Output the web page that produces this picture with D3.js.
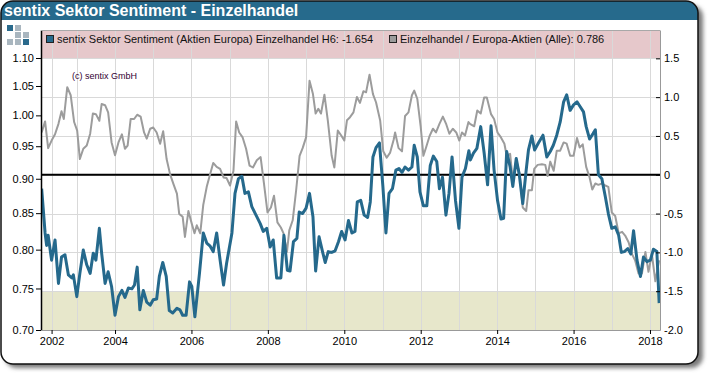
<!DOCTYPE html>
<meta charset="utf-8">
<style>
  body { margin: 0; background: #fff; }
  svg { display: block; font-family: Arial, "Liberation Sans", sans-serif; }
  .axis text { font-size: 11px; fill: #000; font-family: Arial, "Liberation Sans", sans-serif; }
  .legend text { font-size: 11px; fill: #111; }
</style>
<svg width="710" height="376"></svg>
<script src="https://d3js.org/d3.v7.min.js"></script>
<script>

// sentix sector sentiment, Einzelhandel H6 (right axis), [year, value]
var sentimentH6 = [
  [2002.08,-0.18],[2002.17,-0.75],[2002.21,-0.91],[2002.25,-0.78],[2002.34,-1.10],[2002.43,-0.84],
  [2002.52,-1.40],[2002.60,-1.06],[2002.69,-1.03],[2002.78,-1.29],[2002.87,-1.33],[2002.91,-1.29],
  [2003.00,-1.57],[2003.08,-1.27],[2003.17,-0.97],[2003.26,-1.16],[2003.35,-1.27],[2003.43,-1.01],
  [2003.50,-1.10],[2003.59,-0.69],[2003.65,-1.01],[2003.74,-1.40],[2003.82,-1.25],[2003.91,-1.44],
  [2004.00,-1.81],[2004.09,-1.57],[2004.18,-1.49],[2004.26,-1.58],[2004.35,-1.46],[2004.44,-1.47],
  [2004.51,-1.42],[2004.58,-1.19],[2004.65,-1.74],[2004.74,-1.49],[2004.83,-1.64],[2004.92,-1.68],
  [2005.00,-1.61],[2005.09,-1.60],[2005.16,-1.31],[2005.25,-1.13],[2005.34,-1.31],[2005.42,-1.75],
  [2005.51,-1.78],[2005.62,-1.72],[2005.70,-1.74],[2005.77,-1.81],[2005.86,-1.81],[2005.95,-1.38],
  [2006.01,-1.44],[2006.09,-1.83],[2006.21,-1.27],[2006.31,-0.75],[2006.40,-0.88],[2006.49,-0.92],
  [2006.57,-0.99],[2006.66,-0.75],[2006.75,-1.10],[2006.84,-1.42],[2006.92,-1.14],[2007.06,-0.75],
  [2007.14,-0.24],[2007.23,-0.05],[2007.32,-0.02],[2007.40,-0.24],[2007.49,-0.22],[2007.58,-0.41],
  [2007.67,-0.50],[2007.71,-0.54],[2007.80,-0.63],[2007.88,-0.73],[2007.97,-0.69],[2008.06,-0.93],
  [2008.14,-0.84],[2008.23,-1.33],[2008.34,-1.33],[2008.42,-0.78],[2008.51,-1.23],[2008.58,-1.24],
  [2008.67,-0.86],[2008.76,-0.82],[2008.82,-0.48],[2008.91,-0.50],[2009.00,-0.43],[2009.09,-0.24],
  [2009.18,-0.54],[2009.25,-1.24],[2009.34,-0.80],[2009.43,-0.99],[2009.50,-1.13],[2009.58,-0.99],
  [2009.67,-1.00],[2009.76,-0.98],[2009.85,-0.86],[2009.93,-0.73],[2010.02,-0.84],[2010.11,-0.59],
  [2010.20,-0.75],[2010.28,-0.73],[2010.34,-0.35],[2010.43,-0.33],[2010.52,-0.52],[2010.61,-0.55],
  [2010.68,-0.35],[2010.75,0.23],[2010.83,0.35],[2010.92,0.41],[2011.01,-0.15],[2011.09,-0.75],
  [2011.17,-0.24],[2011.26,-0.18],[2011.35,0.06],[2011.43,0.08],[2011.51,0.03],[2011.59,0.10],
  [2011.68,0.06],[2011.77,0.10],[2011.83,0.38],[2011.91,0.23],[2011.98,-0.22],[2012.07,-0.40],
  [2012.16,-0.40],[2012.25,0.12],[2012.33,0.24],[2012.42,0.17],[2012.49,-0.18],[2012.57,-0.03],
  [2012.66,-0.52],[2012.74,-0.24],[2012.82,0.23],[2012.91,-0.33],[2013.00,-0.69],[2013.08,-0.03],
  [2013.17,0.08],[2013.26,0.31],[2013.30,0.19],[2013.38,0.28],[2013.47,0.34],[2013.57,0.62],
  [2013.66,0.28],[2013.75,-0.13],[2013.84,0.63],[2013.92,0.06],[2014.01,-0.33],[2014.10,-0.57],
  [2014.17,-0.56],[2014.25,0.30],[2014.34,0.10],[2014.41,-0.15],[2014.50,0.21],[2014.58,0.00],
  [2014.67,-0.37],[2014.76,0.06],[2014.82,0.32],[2014.91,0.50],[2014.98,0.32],[2015.08,0.41],
  [2015.20,0.51],[2015.30,0.23],[2015.39,0.30],[2015.47,0.38],[2015.56,0.51],[2015.65,0.68],
  [2015.74,0.94],[2015.82,1.03],[2015.91,0.83],[2016.00,0.90],[2016.09,0.94],[2016.17,0.88],
  [2016.26,0.81],[2016.33,0.62],[2016.42,0.46],[2016.51,0.53],[2016.57,0.58],[2016.65,0.00],
  [2016.74,-0.05],[2016.83,-0.28],[2016.91,-0.50],[2017.00,-0.69],[2017.09,-0.67],[2017.18,-0.78],
  [2017.25,-1.00],[2017.33,-0.99],[2017.42,-0.95],[2017.50,-1.02],[2017.57,-0.72],[2017.66,-1.10],
  [2017.75,-1.31],[2017.83,-1.06],[2017.92,-1.12],[2018.01,-1.10],[2018.09,-0.96],[2018.18,-0.99],
  [2018.24,-1.654]
];

// Einzelhandel / Europa-Aktien (Alle), relative performance (left log axis), [year, value]
var relativeAll = [
  [2002.08,0.972],[2002.17,0.990],[2002.25,0.947],[2002.34,0.959],[2002.43,0.969],[2002.52,0.986],
  [2002.60,1.007],[2002.66,0.994],[2002.75,1.048],[2002.84,1.034],[2002.93,0.989],[2003.01,0.975],
  [2003.08,0.930],[2003.17,0.946],[2003.26,0.951],[2003.35,0.970],[2003.42,1.003],[2003.50,1.002],
  [2003.59,0.991],[2003.65,1.019],[2003.74,1.017],[2003.82,1.005],[2003.91,0.956],[2004.00,0.936],
  [2004.09,0.956],[2004.18,0.969],[2004.26,0.946],[2004.33,0.951],[2004.41,0.994],[2004.50,0.994],
  [2004.58,1.001],[2004.67,0.998],[2004.76,0.972],[2004.83,0.962],[2004.92,0.978],[2005.00,0.980],
  [2005.09,0.972],[2005.18,0.954],[2005.26,0.974],[2005.35,0.930],[2005.44,0.907],[2005.53,0.892],
  [2005.62,0.878],[2005.68,0.849],[2005.77,0.845],[2005.83,0.817],[2005.92,0.853],[2006.01,0.835],
  [2006.08,0.822],[2006.14,0.833],[2006.23,0.822],[2006.31,0.862],[2006.40,0.888],[2006.49,0.907],
  [2006.57,0.924],[2006.66,0.918],[2006.75,0.915],[2006.84,0.902],[2006.92,0.901],[2007.01,0.890],
  [2007.10,0.912],[2007.17,0.990],[2007.25,0.972],[2007.34,0.964],[2007.43,0.946],[2007.52,0.920],
  [2007.61,0.917],[2007.71,0.928],[2007.81,0.933],[2007.90,0.892],[2007.99,0.851],[2008.08,0.858],
  [2008.16,0.875],[2008.25,0.837],[2008.34,0.830],[2008.41,0.822],[2008.50,0.797],[2008.56,0.826],
  [2008.65,0.840],[2008.74,0.883],[2008.83,0.935],[2008.91,0.947],[2009.00,0.964],[2009.09,1.059],
  [2009.18,1.036],[2009.25,1.003],[2009.32,1.011],[2009.39,1.003],[2009.48,1.035],[2009.57,0.991],
  [2009.67,0.935],[2009.74,0.917],[2009.83,0.975],[2009.92,0.967],[2010.00,0.959],[2010.07,0.992],
  [2010.15,0.997],[2010.24,1.005],[2010.33,1.031],[2010.41,1.021],[2010.50,1.041],[2010.57,1.039],
  [2010.66,1.070],[2010.75,1.036],[2010.83,1.022],[2010.94,0.991],[2011.02,0.942],[2011.11,0.932],
  [2011.20,0.940],[2011.29,0.960],[2011.33,0.972],[2011.42,0.947],[2011.51,0.942],[2011.59,0.999],
  [2011.68,1.005],[2011.77,1.034],[2011.83,1.042],[2011.91,1.028],[2012.00,0.981],[2012.07,0.935],
  [2012.14,0.948],[2012.23,0.966],[2012.32,0.978],[2012.40,0.972],[2012.49,0.986],[2012.58,0.998],
  [2012.67,0.985],[2012.75,0.970],[2012.84,0.978],[2012.93,0.972],[2013.01,0.959],[2013.08,0.972],
  [2013.16,0.967],[2013.25,0.989],[2013.29,0.986],[2013.40,0.982],[2013.48,1.008],[2013.57,1.003],
  [2013.66,1.030],[2013.73,1.030],[2013.84,1.002],[2013.92,0.994],[2014.01,0.972],[2014.10,0.964],
  [2014.19,0.954],[2014.25,0.935],[2014.34,0.938],[2014.41,0.897],[2014.50,0.928],[2014.59,0.907],
  [2014.67,0.858],[2014.76,0.853],[2014.82,0.883],[2014.91,0.883],[2014.97,0.915],[2015.06,0.921],
  [2015.17,0.922],[2015.26,0.921],[2015.32,0.904],[2015.39,0.926],[2015.48,0.912],[2015.56,0.943],
  [2015.65,0.943],[2015.74,0.956],[2015.82,0.954],[2015.91,0.935],[2016.00,0.935],[2016.09,0.963],
  [2016.16,0.948],[2016.24,0.953],[2016.33,0.918],[2016.42,0.902],[2016.49,0.884],[2016.57,0.893],
  [2016.65,0.891],[2016.74,0.893],[2016.83,0.890],[2016.91,0.888],[2017.00,0.851],[2017.09,0.846],
  [2017.18,0.822],[2017.27,0.824],[2017.35,0.819],[2017.44,0.810],[2017.53,0.794],[2017.61,0.786],
  [2017.70,0.769],[2017.79,0.769],[2017.88,0.797],[2017.96,0.771],[2018.05,0.794],[2018.14,0.759],
  [2018.24,0.786]
];

var leftTicks = [0.70, 0.75, 0.80, 0.85, 0.90, 0.95, 1.00, 1.05, 1.10];
var rightTicks = [-2.0, -1.5, -1.0, -0.5, 0, 0.5, 1.0, 1.5];
var gridYears = [2002.34, 2003, 2004, 2005, 2006, 2007, 2008, 2009, 2010, 2011, 2012, 2013, 2014, 2015, 2016, 2017, 2018];
var labelYears = [2002.34, 2004, 2006, 2008, 2010, 2012, 2014, 2016, 2018];
var legendNames = ["sentix Sektor Sentiment (Aktien Europa) Einzelhandel H6: -1.654",
                   "Einzelhandel / Europa-Aktien (Alle): 0.786"];

var blue = "#25698c", grey = "#9c9c9c";

var svg = d3.select("svg"),
    margin = {top: 30, right: 50, bottom: 46, left: 41},
    W = +svg.attr("width"), H = +svg.attr("height"),
    pL = margin.left, pR = W - margin.right, pT = margin.top, pB = H - margin.bottom;

var defs = svg.append("defs");
var f = defs.append("filter").attr("id", "shadow").attr("x", "-5%").attr("y", "-5%").attr("width", "110%").attr("height", "110%");
f.append("feGaussianBlur").attr("stdDeviation", 2);
defs.append("clipPath").attr("id", "frame").append("rect")
    .attr("x", 1).attr("y", 1).attr("width", 697).attr("height", 363).attr("rx", 12);
defs.append("clipPath").attr("id", "plot").append("rect")
    .attr("x", pL).attr("y", pT).attr("width", pR - pL).attr("height", pB - pT);

// frame + shadow + title bar
svg.append("rect").attr("x", 5).attr("y", 5).attr("width", 698).attr("height", 363).attr("rx", 12)
    .attr("fill", "#7a7a7a").attr("filter", "url(#shadow)");
svg.append("rect").attr("x", 1).attr("y", 1).attr("width", 697).attr("height", 363).attr("rx", 12).attr("fill", "#fff");
svg.append("rect").attr("clip-path", "url(#frame)").attr("x", 0).attr("y", 0).attr("width", W).attr("height", 20).attr("fill", "#266a8c");
svg.append("text").attr("x", 4).attr("y", 16).attr("fill", "#fff")
    .style("font-weight", "bold").style("font-size", "16px")
    .text("sentix Sektor Sentiment - Einzelhandel");

// logo
var logo = [[0,0,1],[1,0,0],[1,1,0],[2,1,0],[0,2,0],[1,2,0],[2,2,1]];
svg.append("g").selectAll("rect").data(logo).enter().append("rect")
    .attr("x", function(d) { return 7 + d[0] * 8; })
    .attr("y", function(d) { return 25 + d[1] * 7; })
    .attr("width", 6).attr("height", 6)
    .attr("fill", function(d) { return d[2] ? "#2a6a8c" : "#a9b6bf"; });

// scales
var x = d3.scaleLinear().domain([2002.063, 2018.262]).range([pL, pR]);
var yR = d3.scaleLinear().domain([-2.0, 1.865]).range([pB, pT]);
var yL = d3.scaleLog().domain([0.70, 1.1524]).range([pB, pT]);

// bands
svg.append("rect").attr("x", pL).attr("y", pT).attr("width", pR - pL)
    .attr("height", yR(1.5) - pT).attr("fill", "#e6c8cb");
svg.append("rect").attr("x", pL).attr("y", yR(-1.5)).attr("width", pR - pL)
    .attr("height", pB - yR(-1.5)).attr("fill", "#e7e7cb");

// grid
var grid = svg.append("g").attr("stroke", "#d9d9d9").attr("stroke-width", 1);
grid.selectAll(".h").data(rightTicks.slice(1)).enter().append("line")
    .attr("x1", pL).attr("x2", pR)
    .attr("y1", function(d) { return Math.round(yR(d)) + 0.5; })
    .attr("y2", function(d) { return Math.round(yR(d)) + 0.5; });
grid.selectAll(".v").data(gridYears).enter().append("line")
    .attr("y1", pT).attr("y2", pB)
    .attr("x1", function(d) { return Math.round(x(d)) + 0.5; })
    .attr("x2", function(d) { return Math.round(x(d)) + 0.5; });

// zero line
svg.append("line").attr("x1", pL).attr("x2", pR)
    .attr("y1", yR(0)).attr("y2", yR(0)).attr("stroke", "#000").attr("stroke-width", 2);

// series
var plot = svg.append("g").attr("clip-path", "url(#plot)");
plot.append("path").datum(relativeAll)
    .attr("fill", "none").attr("stroke", grey).attr("stroke-width", 2).attr("stroke-linejoin", "round")
    .attr("d", d3.line().x(function(d) { return x(d[0]); }).y(function(d) { return yL(d[1]); }));
plot.append("path").datum(sentimentH6)
    .attr("fill", "none").attr("stroke", blue).attr("stroke-width", 3).attr("stroke-linejoin", "round")
    .attr("d", d3.line().x(function(d) { return x(d[0]); }).y(function(d) { return yR(d[1]); }));

// axes
var gl = svg.append("g").attr("class", "axis").attr("transform", "translate(" + pL + ",0)")
    .call(d3.axisLeft(yL).tickValues(leftTicks).tickFormat(d3.format(".2f")).tickSizeInner(5).tickSizeOuter(0).tickPadding(2));
gl.select(".domain").attr("stroke", "#000").attr("stroke-width", 1.5);

var gr = svg.append("g").attr("class", "axis").attr("transform", "translate(" + pR + ",0)")
    .call(d3.axisRight(yR).tickValues(rightTicks).tickFormat(function(d) { return d === 0 ? "0" : d.toFixed(1); })
        .tickSizeInner(-4).tickSizeOuter(0).tickPadding(4));
gr.select(".domain").attr("stroke", "#999");

var gb = svg.append("g").attr("class", "axis").attr("transform", "translate(0," + pB + ")")
    .call(d3.axisBottom(x).tickValues(labelYears).tickFormat(function(d) { return Math.floor(d); })
        .tickSizeInner(4).tickSizeOuter(0).tickPadding(3));
gb.select(".domain").attr("stroke", "#999");

// legend
var lg = svg.append("g").attr("class", "legend");
lg.append("line").attr("x1", pL).attr("x2", pR).attr("y1", pT + 0.5).attr("y2", pT + 0.5)
    .attr("stroke", "#a8a8a8");
var items = lg.selectAll(".item").data(legendNames).enter().append("g")
    .attr("transform", function(d, i) { return "translate(" + (i ? 389 : 46) + "," + (pT + 5) + ")"; });
items.append("rect").attr("x", 0.5).attr("y", 0.5).attr("width", 7).attr("height", 7)
    .attr("fill", function(d, i) { return i ? grey : blue; }).attr("stroke", "#222");
items.append("text").attr("x", 11).attr("y", 8).text(function(d) { return d; });

svg.append("text").attr("x", 72).attr("y", 79).attr("fill", "#303")
    .style("font-size", "9px").text("(c) sentix GmbH");

// frame border on top
svg.append("rect").attr("x", 1).attr("y", 1).attr("width", 697).attr("height", 363).attr("rx", 12)
    .attr("fill", "none").attr("stroke", "#111").attr("stroke-width", 1.5);

</script>
